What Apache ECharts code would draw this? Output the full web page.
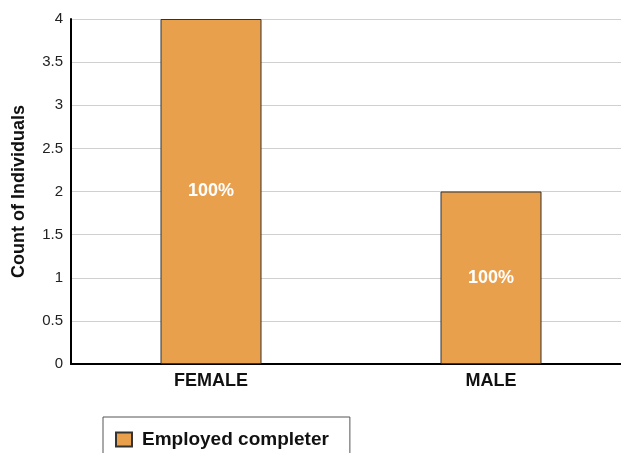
<!DOCTYPE html>
<html><head><meta charset="utf-8">
<script src="https://cdn.jsdelivr.net/npm/echarts@6/dist/echarts.min.js"></script>
<style>html,body{margin:0;padding:0;background:#fff;overflow:hidden;width:621px;height:453px}#c{width:631px;height:453px}</style>
</head><body><div id="c"></div>
<script>
const categories = ['FEMALE', 'MALE'];
const employedValues = [4, 2];
const barLabels = ['100%', '100%'];
const yTicks = {min: 0, max: 4, interval: 0.5};

const chart = echarts.init(document.getElementById('c'), null, {renderer: 'canvas'});
chart.setOption({
  animation: false,
  grid: {left: 71, right: 0, top: 19, bottom: 89, containLabel: false},
  legend: {
    left: 103, top: 417,
    data: [{name: 'Employed completer', icon: 'rect'}],
    borderColor: '#555', borderWidth: 1,
    padding: [13, 21, 13, 12],
    itemWidth: 16, itemHeight: 14,
    textStyle: {fontFamily: 'Liberation Sans, Arial', fontWeight: 'bold', fontSize: 19, color: '#111', padding: [0, 0, 0, 5]}
  },
  xAxis: {
    type: 'category', data: categories,
    axisLine: {lineStyle: {color: '#000', width: 2}},
    axisTick: {show: false},
    axisLabel: {fontFamily: 'Liberation Sans, Arial', fontWeight: 'bold', fontSize: 18, color: '#111', margin: 8}
  },
  yAxis: {
    type: 'value', min: yTicks.min, max: yTicks.max, interval: yTicks.interval,
    name: 'Count of Individuals', nameLocation: 'middle', nameGap: 43,
    nameTextStyle: {fontFamily: 'Liberation Sans, Arial', fontWeight: 'bold', fontSize: 18, color: '#111'},
    axisLine: {show: true, lineStyle: {color: '#000', width: 2}},
    axisTick: {show: false},
    splitLine: {lineStyle: {color: '#d0d0d0', width: 1}},
    axisLabel: {fontFamily: 'Liberation Sans, Arial', fontSize: 15, color: '#222', margin: 8}
  },
  series: [{
    name: 'Employed completer', type: 'bar',
    data: employedValues.map((v, i) => ({value: v, label: {formatter: barLabels[i]}})),
    barWidth: 101,
    itemStyle: {color: '#E9A04D', borderColor: '#333', borderWidth: 1},
    label: {show: true, position: 'inside', color: '#fff', fontFamily: 'Liberation Sans, Arial', fontWeight: 'bold', fontSize: 18}
  }]
});
</script></body></html>
